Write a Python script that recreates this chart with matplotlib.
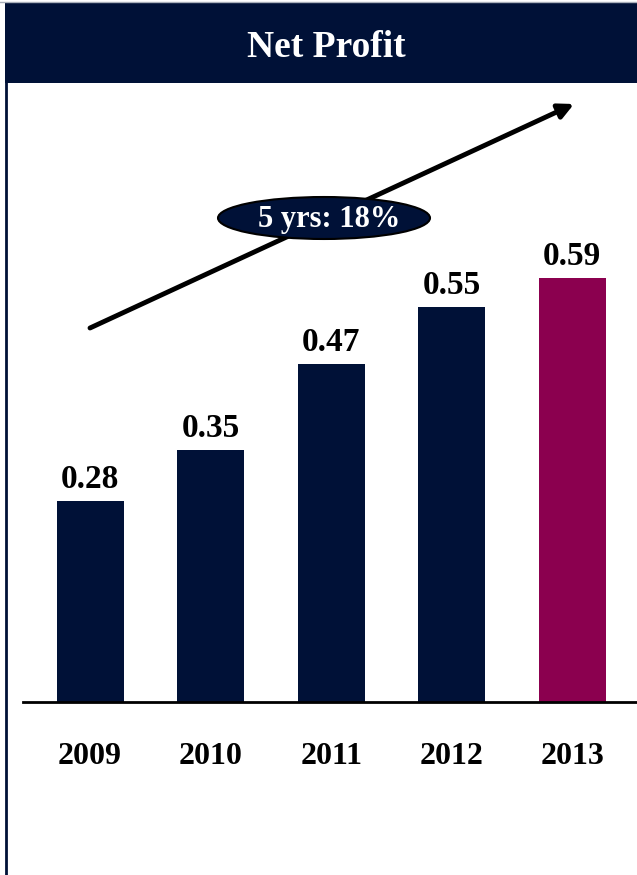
import matplotlib
matplotlib.use("Agg")
import matplotlib.pyplot as plt
from matplotlib.patches import Rectangle, Ellipse

years = ["2009", "2010", "2011", "2012", "2013"]
profit = [0.28, 0.35, 0.47, 0.55, 0.59]
bar_colors = ["#001137", "#001137", "#001137", "#001137", "#8B004F"]
title = "Net Profit"
cagr_label = "5 yrs: 18%"

navy = "#001137"
W, H = 637, 875

plt.rcParams["font.family"] = ["Liberation Serif", "DejaVu Serif"]
fig = plt.figure(figsize=(W / 100, H / 100), dpi=100)

# overlay in pixel coords for the frame, header and trend arrow
deco = fig.add_axes([0, 0, 1, 1])
deco.set_xlim(0, W)
deco.set_ylim(H, 0)
deco.axis("off")
deco.add_patch(Rectangle((5, 3), W - 5, 80, color=navy, lw=0))
deco.plot([0, W], [2, 2], color="#aab0bb", lw=1)
deco.plot([5.5, 5.5], [83, H], color=navy, lw=2)
deco.text(326, 57, title, color="white", fontsize=27, fontweight="bold",
          ha="center", va="baseline")

# bars
ax = fig.add_axes([23 / W, (H - 702) / H, (W - 23) / W, (702 - 83) / H])
x = range(len(years))
ax.bar(x, profit, width=0.555, color=bar_colors, zorder=2)
ax.set_xlim(-0.556, 4.536)
ax.set_ylim(0, 0.861)
for s in ["top", "right", "left"]:
    ax.spines[s].set_visible(False)
ax.spines["bottom"].set_linewidth(2)
ax.spines["bottom"].set_color("black")
ax.set_yticks([])
ax.set_xticks(list(x))
ax.set_xticklabels(years, fontsize=23, fontweight="bold")
ax.tick_params(axis="x", length=0, pad=29)
ax.patch.set_alpha(0)
for i, v in enumerate(profit):
    ax.text(i, v + 0.018, f"{v:.2f}", ha="center", va="baseline",
            fontsize=24, fontweight="bold")

# trend arrow with CAGR ellipse
deco.annotate("", xy=(574, 104), xytext=(90, 328),
              arrowprops=dict(arrowstyle="-|>,head_length=0.9,head_width=0.45",
                              color="black", lw=3.5, shrinkA=0, shrinkB=0))
deco.add_patch(Ellipse((324, 218), 212, 42, facecolor=navy,
                       edgecolor="black", lw=1.5, zorder=5))
deco.text(329, 227, cagr_label, color="white", fontsize=22, fontweight="bold",
          ha="center", va="baseline", zorder=6)

fig.savefig("out.png", dpi=100)
